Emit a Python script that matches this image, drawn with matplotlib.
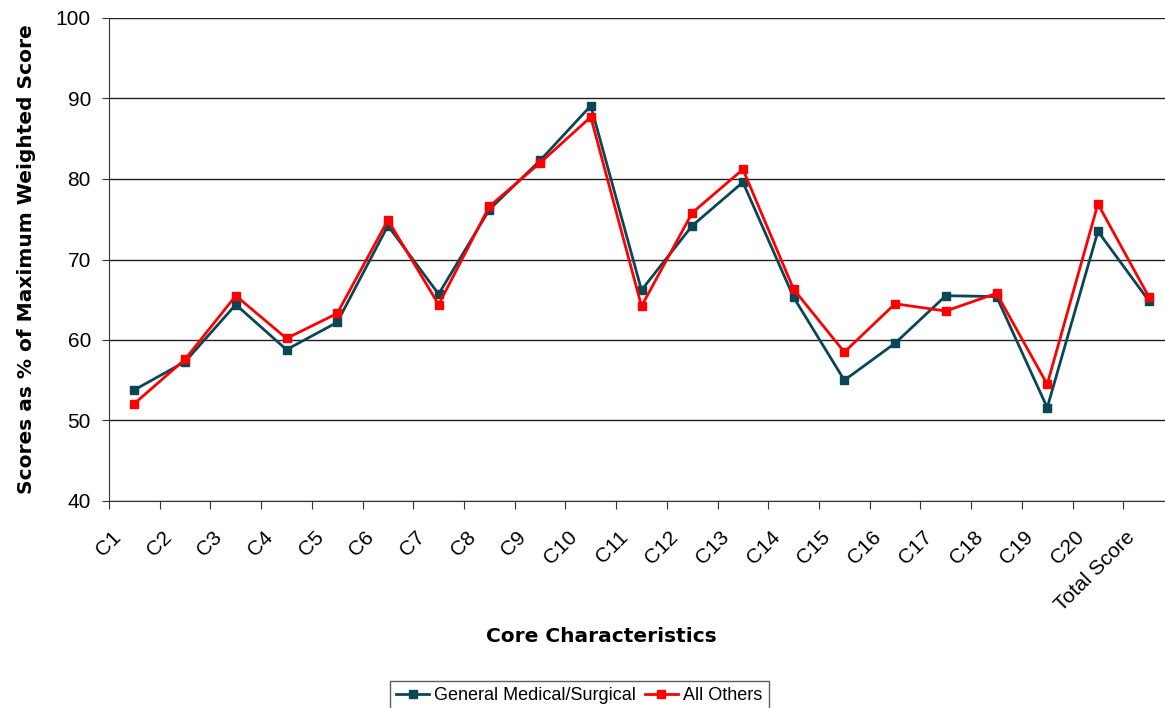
import matplotlib.pyplot as plt
from matplotlib.transforms import ScaledTranslation

categories = ["C1", "C2", "C3", "C4", "C5", "C6", "C7", "C8", "C9", "C10",
              "C11", "C12", "C13", "C14", "C15", "C16", "C17", "C18", "C19",
              "C20", "Total Score"]
gen_med = [53.8, 57.3, 64.4, 58.8, 62.2, 74.2, 65.7, 76.2, 82.3, 89.1,
           66.2, 74.2, 79.6, 65.3, 55.0, 59.6, 65.5, 65.4, 51.6, 73.5, 64.9]
all_others = [52.1, 57.6, 65.5, 60.2, 63.3, 74.9, 64.4, 76.6, 82.0, 87.7,
              64.2, 75.8, 81.2, 66.3, 58.5, 64.5, 63.6, 65.8, 54.5, 76.9, 65.4]

plt.rcParams['font.family'] = ['Liberation Sans', 'DejaVu Sans']

fig = plt.figure(figsize=(11.65, 7.08), dpi=100)
ax = fig.add_axes([109 / 1165, 1 - 501 / 708, 1065 / 1165, 483 / 708])

x = [i + 0.5 for i in range(len(categories))]
ax.plot(x, gen_med, color='#0b4657', lw=2, marker='s', ms=5.5,
        label='General Medical/Surgical', zorder=3)
ax.plot(x, all_others, color='#ff0000', lw=2, marker='s', ms=5.5,
        label='All Others', zorder=4)

ax.set_xlim(0, len(categories))
ax.set_ylim(40, 100)
ax.set_yticks(range(40, 101, 10))
ax.yaxis.grid(True, color='#222222', lw=1)
ax.set_axisbelow(True)

for side in ['top', 'right']:
    ax.spines[side].set_visible(False)
ax.spines['left'].set_color('#333333')
ax.spines['bottom'].set_color('#333333')

# tick marks on category boundaries, labels on centers
ax.set_xticks(range(len(categories) + 1))
ax.set_xticklabels([])
ax.set_xticks(x, minor=True)
ax.set_xticklabels(categories, minor=True, rotation=45, ha='right', va='top',
                   fontsize=15)
ax.tick_params(axis='x', which='minor', length=0, pad=19)
ax.tick_params(axis='x', which='major', length=6, direction='out', color='#333333')
ax.tick_params(axis='y', length=5, direction='out', labelsize=15, pad=8,
               color='#333333')
offset = ScaledTranslation(-10 / 100, 0, fig.dpi_scale_trans)
for lbl in ax.get_xticklabels(minor=True):
    lbl.set_transform(lbl.get_transform() + offset)

bold = dict(family='DejaVu Sans', fontweight='bold', fontsize=14.5)
ax.set_ylabel('Scores as % of Maximum Weighted Score', labelpad=14, **bold)
ax.set_xlabel('Core Characteristics', labelpad=20, **bold)
ax.xaxis.set_label_coords((601 - 109) / 1065, -(637 - 501) / 483)
ax.xaxis.label.set_va('center')

leg = fig.legend(loc='upper left', bbox_to_anchor=(390 / 1165, 1 - 681 / 708),
                 ncol=2, frameon=True, fancybox=False, fontsize=13,
                 handlelength=1.8, columnspacing=0.5, borderpad=0.35,
                 handletextpad=0.3, borderaxespad=0)
leg.get_frame().set_edgecolor('#333333')
leg.get_frame().set_linewidth(1)

fig.savefig('out.png', dpi=100)
